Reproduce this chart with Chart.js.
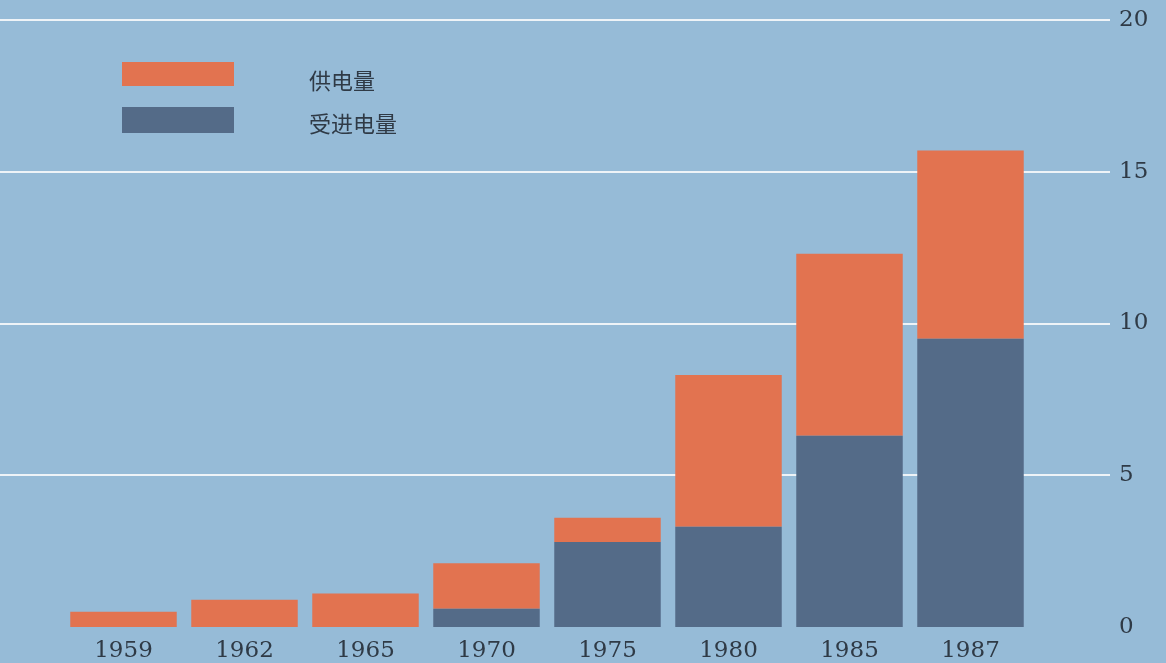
<!DOCTYPE html>
<html>
<head>
<meta charset="utf-8">
<script src="https://cdn.jsdelivr.net/npm/chart.js@4.4.0/dist/chart.umd.min.js"></script>
<style>
  html, body { margin: 0; padding: 0; background: #96bbd7; }
  #wrap { position: relative; width: 1166px; height: 663px; background: #96bbd7; overflow: hidden; }
  canvas { position: absolute; left: 0; top: 0; }
  .lg { position: absolute; left: 122px; width: 112px; }
  .lt { position: absolute; left: 309px; font-family: "Noto Sans CJK SC", sans-serif; font-size: 22px; color: #2f3a46; line-height: 1; }
</style>
</head>
<body>
<div id="wrap">
  <canvas id="c" width="1166" height="663" style="width:1166px;height:663px;"></canvas>
  <div class="lg" style="top:62px;height:24px;background:#e27350;"></div>
  <div class="lg" style="top:107px;height:26px;background:#546b88;"></div>
  <div class="lt" style="top:68px;">供电量</div>
  <div class="lt" style="top:111px;">受进电量</div>
</div>
<script>
const years = ["1959", "1962", "1965", "1970", "1975", "1980", "1985", "1987"];
const supplyTotal = [0.5, 0.9, 1.1, 2.1, 3.6, 8.3, 12.3, 15.7];   // 供电量 (bar top)
const imported   = [0, 0, 0, 0.6, 2.8, 3.3, 6.3, 9.5];            // 受进电量
const yTicks = [0, 5, 10, 15, 20];

const supplyPart = supplyTotal.map((v, i) => +(v - imported[i]).toFixed(2));

const gridPlugin = {
  id: 'fullGrid',
  beforeDatasetsDraw(chart) {
    const ctx = chart.ctx, y = chart.scales.y;
    ctx.save();
    ctx.strokeStyle = '#eef3f7';
    ctx.lineWidth = 2;
    yTicks.forEach(v => {
      if (v === 0) return;
      const py = Math.round(y.getPixelForValue(v));
      ctx.beginPath();
      ctx.moveTo(0, py);
      ctx.lineTo(1110, py);
      ctx.stroke();
    });
    ctx.restore();
  }
};

new Chart(document.getElementById('c'), {
  type: 'bar',
  data: {
    labels: years,
    datasets: [
      { label: '受进电量', data: imported, backgroundColor: '#546b88', stack: 's' },
      { label: '供电量', data: supplyPart, backgroundColor: '#e27350', stack: 's' }
    ]
  },
  options: {
    responsive: false,
    maintainAspectRatio: false,
    devicePixelRatio: 1,
    animation: false,
    layout: { padding: { left: 63, right: 0, top: 20, bottom: 0 } },
    datasets: { bar: { categoryPercentage: 1, barPercentage: 0.88 } },
    plugins: { legend: { display: false }, tooltip: { enabled: false } },
    scales: {
      x: {
        stacked: true,
        grid: { display: false, drawTicks: false },
        border: { display: false },
        ticks: { color: '#2f3a46', font: { family: 'DejaVu Serif', size: 23 }, padding: 10, maxRotation: 0 },
        afterFit: (s) => { s.height = 36; s.paddingLeft = 0; s.paddingRight = 0; }
      },
      y: {
        stacked: true,
        position: 'right',
        min: 0, max: 20,
        afterBuildTicks: (s) => { s.ticks = yTicks.map(v => ({ value: v })); },
        grid: { display: false, drawTicks: false },
        border: { display: false },
        ticks: { color: '#2f3a46', font: { family: 'DejaVu Serif', size: 23 }, padding: 88 },
        afterFit: (s) => { s.width = 135; s.paddingTop = 0; s.paddingBottom = 0; }
      }
    }
  },
  plugins: [gridPlugin]
});
</script>
</body>
</html>
